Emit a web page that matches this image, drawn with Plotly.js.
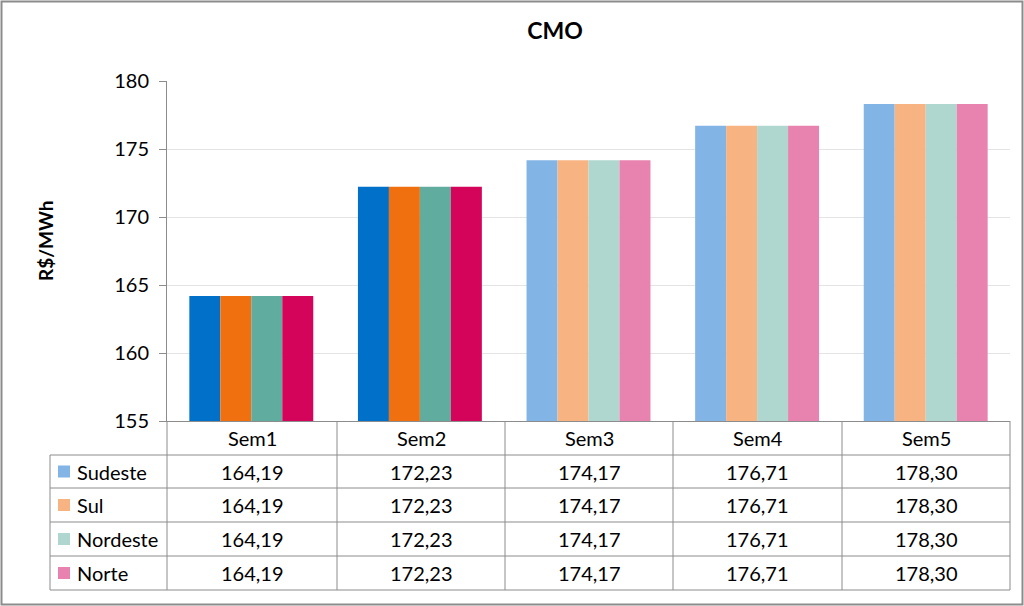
<!DOCTYPE html>
<html>
<head>
<meta charset="utf-8">
<script src="https://cdn.plot.ly/plotly-3.0.1.min.js"></script>
<style>
html,body{margin:0;padding:0;background:#fff;}
#chart{width:1024px;height:606px;}
</style>
</head>
<body>
<div id="chart"></div>
<script>
// ---- data ----
const weeks = ['Sem1', 'Sem2', 'Sem3', 'Sem4', 'Sem5'];
const regions = ['Sudeste', 'Sul', 'Nordeste', 'Norte'];
const sudeste = [164.19, 172.23, 174.17, 176.71, 178.30];
const sul = [164.19, 172.23, 174.17, 176.71, 178.30];
const nordeste = [164.19, 172.23, 174.17, 176.71, 178.30];
const norte = [164.19, 172.23, 174.17, 176.71, 178.30];
const series = [sudeste, sul, nordeste, norte];
const yTicks = [155, 160, 165, 170, 175, 180];

// ---- style ----
const fullColors = ['#0070C8', '#F07010', '#60AD9F', '#D4045A'];
const lightColors = ['#82B5E6', '#F7B482', '#AFD7CF', '#E882AE'];
const solidWeeks = 2; // first weeks drawn in full colour
const FONT = 'Lato, "Open Sans", sans-serif';
const TS = 20; // table text size

const W = 1024, H = 606;
const L = 167, R = 1010, T = 81, B = 421;
const px2x = X => (X - L) / (R - L);
const px2y = Y => (B - Y) / (B - T);

const traces = series.map((vals, i) => ({
  type: 'bar',
  name: regions[i],
  x: weeks,
  y: vals,
  marker: {
    color: weeks.map((w, j) => j < solidWeeks ? fullColors[i] : lightColors[i]),
    line: {width: 0}
  },
  hoverinfo: 'x+y+name'
}));

const fmt = v => v.toFixed(2).replace('.', ',');
const shapes = [];
const annotations = [];
const lineStyle = {color: '#8c8c8c', width: 1};

// table geometry (pixels)
const colEdges = [167, 337, 505, 673, 842, 1010];
const rowEdges = [421, 455, 488, 522, 556, 590];
const leftX = 50;

// horizontal lines
for (let r = 1; r < rowEdges.length; r++) {
  shapes.push({type: 'line', xref: 'paper', yref: 'paper',
    x0: px2x(leftX), x1: px2x(R), y0: px2y(rowEdges[r]), y1: px2y(rowEdges[r]), line: lineStyle});
}
// vertical lines
colEdges.forEach(X => {
  shapes.push({type: 'line', xref: 'paper', yref: 'paper',
    x0: px2x(X), x1: px2x(X), y0: px2y(421), y1: px2y(590), line: lineStyle});
});
shapes.push({type: 'line', xref: 'paper', yref: 'paper',
  x0: px2x(leftX), x1: px2x(leftX), y0: px2y(455), y1: px2y(590), line: lineStyle});

// header labels
weeks.forEach((w, j) => {
  annotations.push({xref: 'paper', yref: 'paper',
    x: px2x((colEdges[j] + colEdges[j + 1]) / 2), y: px2y(438),
    text: w, showarrow: false, xanchor: 'center', yanchor: 'middle',
    font: {family: FONT, size: TS, color: '#000'}});
});
// rows
regions.forEach((reg, i) => {
  const yc = (rowEdges[i + 1] + rowEdges[i + 2]) / 2;
  shapes.push({type: 'rect', xref: 'paper', yref: 'paper',
    x0: px2x(58), x1: px2x(70), y0: px2y(yc - 6), y1: px2y(yc + 6),
    fillcolor: lightColors[i], line: {width: 0}});
  annotations.push({xref: 'paper', yref: 'paper', x: px2x(75), y: px2y(yc),
    text: reg, showarrow: false, xanchor: 'left', yanchor: 'middle',
    font: {family: FONT, size: TS, color: '#000'}});
  series[i].forEach((v, j) => {
    annotations.push({xref: 'paper', yref: 'paper',
      x: px2x((colEdges[j] + colEdges[j + 1]) / 2), y: px2y(yc),
      text: fmt(v), showarrow: false, xanchor: 'center', yanchor: 'middle',
      font: {family: FONT, size: TS, color: '#000'}});
  });
});

// y-axis title
annotations.push({xref: 'paper', yref: 'paper', x: px2x(45), y: px2y(241),
  text: '<b>R$/MWh</b>', textangle: -90, showarrow: false,
  xanchor: 'center', yanchor: 'middle',
  font: {family: FONT, size: 19, color: '#000'}});

// outer border
shapes.push({type: 'rect', xref: 'paper', yref: 'paper',
  x0: px2x(1.5), x1: px2x(1022.5), y0: px2y(1.5), y1: px2y(604.5),
  line: {color: '#8c8c8c', width: 2}, fillcolor: 'rgba(0,0,0,0)'});

const layout = {
  width: W, height: H,
  margin: {l: L, r: W - R, t: T, b: H - B, pad: 0},
  paper_bgcolor: '#fff', plot_bgcolor: '#fff',
  showlegend: false,
  barmode: 'group', bargap: 0.265, bargroupgap: 0,
  title: {text: '<b>CMO</b>', x: 555 / W, xanchor: 'center', y: 1 - 31 / H, yanchor: 'middle',
    font: {family: FONT, size: 23, color: '#000'}},
  xaxis: {type: 'category', range: [-0.5, 4.5], showticklabels: false, ticks: '',
    showgrid: false, zeroline: false, showline: true, linecolor: '#8c8c8c', linewidth: 1,
    fixedrange: true},
  yaxis: {range: [155, 180], tickvals: yTicks, ticktext: yTicks.map(String),
    ticks: 'outside', ticklen: 7, tickcolor: '#8c8c8c', tickwidth: 1,
    showline: true, linecolor: '#8c8c8c', linewidth: 1,
    showgrid: true, gridcolor: '#e4e4e4', gridwidth: 1, zeroline: false,
    tickfont: {family: FONT, size: 20, color: '#000'}, ticklabelstandoff: 6,
    fixedrange: true},
  shapes: shapes,
  annotations: annotations
};

Plotly.newPlot('chart', traces, layout, {displayModeBar: false, staticPlot: true});
</script>
</body>
</html>
